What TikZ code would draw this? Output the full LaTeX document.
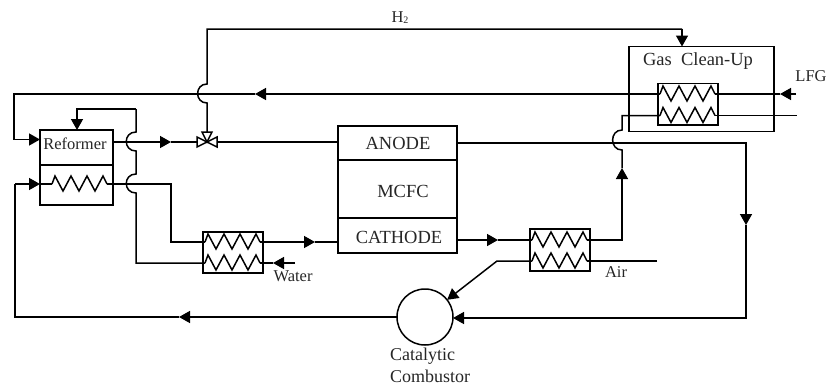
\documentclass[tikz,border=0pt]{standalone}
\usepackage{fontspec}
\setmainfont{Liberation Serif}
\usetikzlibrary{arrows.meta}
\newcommand{\fsA}{\fontsize{16.5}{18}\selectfont}
\newcommand{\fsB}{\fontsize{18.5}{20}\selectfont}
\newcommand{\fsC}{\fontsize{18}{20}\selectfont}
\tikzset{
  pipe/.style={draw=black,line width=1.5pt,line join=miter},
  flow/.style={pipe,-{Triangle[length=11pt,width=12pt]}},
  box/.style={draw=black,line width=1.5pt,fill=none,inner sep=0pt,outer sep=0pt},
  lab/.style={inner sep=0pt,font=\fsA,text=black!85},
  big/.style={inner sep=0pt,font=\fsB,text=black!85},
  cat/.style={inner sep=0pt,font=\fsC,text=black!85},
  coil/.pic={\draw[pipe] (0,0)--(3,-8)--(11,7)--(19,-8)--(27,7)--(35,-8)--(43,7)--(51,-8)--(55,0);},
  valvetri/.style={draw=black,line width=1.5pt,fill=white,line join=miter}
}
\begin{document}
\begin{tikzpicture}[x=1pt,y=-1pt]
\useasboundingbox (0,0) rectangle (827,386);
% Boxes
\node[box,minimum width=73pt,minimum height=35pt,anchor=north west] (refT) at (40,130) {};
\node[box,minimum width=73pt,minimum height=40pt,anchor=north west] (refB) at (40,165) {};
\node[lab] (reftxt) at (75,143.5) {Reformer};
\node[box,minimum width=119pt,minimum height=34pt,anchor=north west] (anode) at (338,126) {};
\node[box,minimum width=119pt,minimum height=58pt,anchor=north west] (mcfc) at (338,160) {};
\node[box,minimum width=119pt,minimum height=35pt,anchor=north west] (cathode) at (338,218) {};
\node[big] (anodetxt) at (398,143) {ANODE};
\node[big] (mcfctxt) at (403,191) {MCFC};
\node[big] (cathodetxt) at (399,237) {CATHODE};
\node[box,minimum width=145pt,minimum height=85pt,anchor=north west] (gas) at (629,46.5) {};
\node[big] (gastxt) at (698,61) {Gas\ \ Clean-Up};
\node[box,minimum width=60pt,minimum height=41.5pt,anchor=north west] (hxG) at (658,83.5) {};
\node[box,minimum width=60pt,minimum height=41pt,anchor=north west] (hxW) at (203,232) {};
\node[box,minimum width=60pt,minimum height=42pt,anchor=north west] (hxA) at (530,229) {};
\node[draw=black,line width=1.5pt,circle,minimum size=56pt,inner sep=0pt,outer sep=0pt] (comb) at (425,317) {};
% Coils
\coordinate (cR) at (52,184);
\coordinate (cRe) at (107,184);
\coordinate (cW1) at (205,242);
\coordinate (cW1e) at (260,242);
\coordinate (cW2) at (205,263);
\coordinate (cW2e) at (260,263);
\coordinate (cA1) at (532,240);
\coordinate (cA1e) at (587,240);
\coordinate (cA2) at (532,261);
\coordinate (cA2e) at (587,261);
\coordinate (cG1) at (660,94);
\coordinate (cG1e) at (715,94);
\coordinate (cG2) at (660,115.5);
\coordinate (cG2e) at (715,115.5);
\foreach \c in {cR,cW1,cW2,cA1,cA2,cG1,cG2} \pic at (\c) {coil};
% Valve
\coordinate (valve) at (207,142);
% Reformer feed (top line from gas clean-up HX)
\coordinate (lfgS) at (796,94);
\coordinate (lfgT) at (780,94);
\coordinate (topT) at (255,94);
\coordinate (j1a) at (207,84);
\coordinate (j1b) at (207,103);
\coordinate (ll1) at (14,94);
\coordinate (ll2) at (14,139.5);
\coordinate (refIn) at (40,139.5);
\draw[flow] (lfgS) -- (lfgT);
\draw[pipe] (lfgT) -- (cG1e);
\draw[flow] (cG1) -- (topT);
\draw[pipe] (topT) -- (ll1) -- (ll2);
\draw[flow] (ll2) -- (refIn);
% H2 line
\coordinate (h1) at (207,29);
\coordinate (h2) at (682,29);
\draw[pipe] (valve) -- (j1b) .. controls +(-12.5,0) and +(-12.5,0) .. (j1a) -- (h1) -- (h2);
\draw[flow] (h2) -- (h2 |- gas.north);
% Reformer loop
\coordinate (l1) at (77,109);
\coordinate (l2) at (136,109);
\coordinate (j2a) at (136,132);
\coordinate (j2b) at (136,151);
\coordinate (j3a) at (136,174);
\coordinate (j3b) at (136,193);
\coordinate (l3) at (136,263);
\draw[flow] (l2) -- (l1) -- (l1 |- refT.north);
\draw[pipe] (l2) -- (j2a) .. controls +(-13,0) and +(-13,0) .. (j2b) -- (j3a) .. controls +(-13,0) and +(-13,0) .. (j3b) -- (l3) -- (cW2);
\draw[pipe] (cW2e) -- (hxW.east |- cW2e);
% Reformer out to valve
\coordinate (a1) at (171,142);
\draw[flow] (refT.east |- valve) -- (a1);
\draw[pipe] (a1) -- (valve);
\draw[pipe] (valve) -- (anode.west |- valve);
% Reformer coil out
\coordinate (m1) at (171,184);
\coordinate (m2) at (171,242);
\draw[pipe] (refB.west |- cR) -- (cR);
\draw[pipe] (cRe) -- (m1) -- (m2) -- (cW1);
\coordinate (a2) at (315,242);
\draw[flow] (cW1e) -- (a2);
\draw[pipe] (a2) -- (cathode.west |- a2);
% Water
\coordinate (wS) at (295,263);
\coordinate (wT) at (273,263);
\draw[flow] (wS) -- (wT);
\draw[pipe] (wT) -- (cW2e);
\node[lab] (water) at (293,276) {Water};
% Cathode to air HX
\coordinate (a3) at (498,240);
\draw[flow] (cathode.east |- cA1) -- (a3);
\draw[pipe] (a3) -- (cA1);
% Air HX hot out up to gas HX
\coordinate (u1) at (622,240);
\coordinate (uT) at (622,168);
\coordinate (j4a) at (622,150);
\coordinate (j4b) at (622,130);
\coordinate (u2) at (622,115.5);
\draw[flow] (cA1e) -- (u1) -- (uT);
\draw[pipe] (uT) -- (j4a) .. controls +(-12.5,0) and +(-12.5,0) .. (j4b) -- (u2) -- (cG2);
\coordinate (g2S) at (797,115.5);
\draw[pipe] (cG2e) -- (g2S);
% Air
\coordinate (airS) at (657,261);
\draw[pipe] (airS) -- (cA2e);
\coordinate (d1) at (497,261);
\draw[flow] (cA2) -- (d1) -- (comb);
\node[lab] (air) at (616,272) {Air};
% Anode out to combustor
\coordinate (r1) at (746,143);
\coordinate (rT) at (746,225);
\coordinate (r2) at (746,318);
\draw[flow] (anode.east |- r1) -- (r1) -- (rT);
\draw[flow] (rT) -- (r2) -- (comb.east |- r2);
% Combustor out
\coordinate (bT) at (179,317);
\coordinate (b1) at (15,317);
\coordinate (b2) at (15,184);
\draw[flow] (comb.west) -- (bT);
\draw[pipe] (bT) -- (b1) -- (b2);
\draw[flow] (b2) -- (refB.west |- b2);
% Valve body
\draw[valvetri] (valve) -- ++(-10,-5) -- ++(0,10) -- cycle;
\draw[valvetri] (valve) -- ++(10,-5) -- ++(0,10) -- cycle;
\draw[valvetri] (valve) -- ++(-5,-10) -- ++(10,0) -- cycle;
% Labels
\node[lab] (h2t) at (400,17.5) {H\raisebox{-0.1ex}{\fontsize{10}{10}\selectfont 2}};
\node[lab] (lfg) at (811,76.5) {LFG};
\node[cat,anchor=west] (cat1) at (390,356) {Catalytic};
\node[cat,anchor=west] (cat2) at (390,376.5) {Combustor};
\end{tikzpicture}
\end{document}
